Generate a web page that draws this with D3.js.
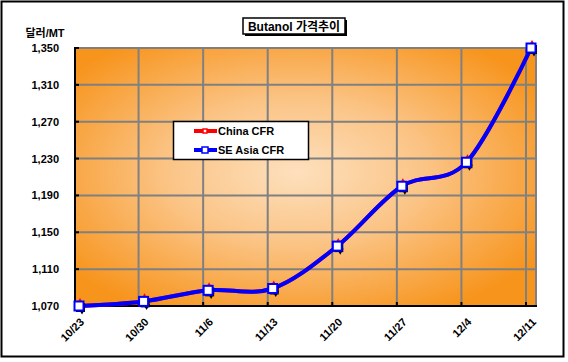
<!DOCTYPE html>
<html lang="ko">
<head>
<meta charset="UTF-8">
<title>Butanol 가격추이</title>
<script src="https://d3js.org/d3.v7.min.js"></script>
<style>
    * { margin: 0; padding: 0; }
    body { background: #fff; overflow: hidden; }
    svg text { font-family: 'Liberation Sans', Arial, 'Noto Sans CJK KR', sans-serif; font-weight: bold; fill: #000; }
</style>
</head>
<body>
<div id="chart"></div>
<script>
// chart data
const dates = ['10/23', '10/30', '11/6', '11/13', '11/20', '11/27', '12/4', '12/11'];
const chinaCfr = [1070, 1075, 1087, 1089, 1135, 1200, 1226, 1350];
const seAsiaCfr = [1070, 1075, 1087, 1089, 1135, 1200, 1226, 1350];
const yTicks = [1070, 1110, 1150, 1190, 1230, 1270, 1310, 1350];

const width = 568, height = 362;
const plot = { left: 75, top: 48, right: 536, bottom: 306 };

const svg = d3.select('#chart').append('svg')
    .attr('width', width)
    .attr('height', height);

// gradient fill for the plot area (light in the middle, orange at the edges)
const defs = svg.append('defs');
const grad = defs.append('radialGradient')
    .attr('id', 'bg')
    .attr('cx', '48%').attr('cy', '48%').attr('r', '62%');
grad.append('stop').attr('offset', '0%').attr('stop-color', '#fde0bd');
grad.append('stop').attr('offset', '45%').attr('stop-color', '#fbc486');
grad.append('stop').attr('offset', '100%').attr('stop-color', '#f7941c');

// outer frame
svg.append('rect')
    .attr('x', 1.5).attr('y', 1.5)
    .attr('width', 562).attr('height', 355)
    .attr('fill', '#fff')
    .attr('stroke', '#000')
    .attr('stroke-width', 2);

const x = d3.scalePoint().domain(dates).range([79, 531]);
const y = d3.scaleLinear().domain([1070, 1350]).range([plot.bottom, plot.top]);
const gridOffset = -5;

svg.append('rect')
    .attr('x', plot.left).attr('y', plot.top)
    .attr('width', plot.right - plot.left)
    .attr('height', plot.bottom - plot.top)
    .attr('fill', 'url(#bg)');

// gridlines
const grid = svg.append('g').attr('stroke', '#808080').attr('stroke-width', 2);
grid.selectAll('.hgrid')
    .data(yTicks)
    .join('line')
    .attr('x1', plot.left).attr('x2', plot.right)
    .attr('y1', d => y(d)).attr('y2', d => y(d));
grid.selectAll('.vgrid')
    .data(dates.slice(1))
    .join('line')
    .attr('x1', d => x(d) + gridOffset).attr('x2', d => x(d) + gridOffset)
    .attr('y1', plot.top).attr('y2', plot.bottom);
grid.append('line')
    .attr('x1', plot.right).attr('x2', plot.right)
    .attr('y1', plot.top).attr('y2', plot.bottom);

// axes lines
svg.append('line')
    .attr('x1', plot.left).attr('x2', plot.left)
    .attr('y1', plot.top - 1).attr('y2', plot.bottom + 1)
    .attr('stroke', '#000').attr('stroke-width', 2);
svg.append('line')
    .attr('x1', plot.left).attr('x2', plot.right + 1)
    .attr('y1', plot.bottom).attr('y2', plot.bottom)
    .attr('stroke', '#000').attr('stroke-width', 2);

// tick marks
svg.append('g').selectAll('line')
    .data(yTicks)
    .join('line')
    .attr('x1', plot.left).attr('x2', plot.left + 4)
    .attr('y1', d => y(d)).attr('y2', d => y(d))
    .attr('stroke', '#000').attr('stroke-width', 2);
svg.append('g').selectAll('line')
    .data(dates.slice(1))
    .join('line')
    .attr('x1', d => x(d) + gridOffset).attr('x2', d => x(d) + gridOffset)
    .attr('y1', plot.bottom).attr('y2', plot.bottom - 4)
    .attr('stroke', '#000').attr('stroke-width', 2);

// y tick labels
svg.append('g').selectAll('text')
    .data(yTicks)
    .join('text')
    .attr('x', 59)
    .attr('y', d => y(d) + 4)
    .attr('text-anchor', 'end')
    .attr('font-size', 11)
    .text(d => d3.format(',')(d));

svg.append('text')
    .attr('x', 45).attr('y', 37)
    .attr('text-anchor', 'middle')
    .attr('font-size', 11)
    .text('달러/MT');

// x tick labels
svg.append('g').selectAll('text')
    .data(dates)
    .join('text')
    .attr('transform', d => `translate(${x(d) + 3},${plot.bottom + 14}) rotate(-45)`)
    .attr('text-anchor', 'end')
    .attr('dy', '0.35em')
    .attr('font-size', 11)
    .text(d => d);

// lines
const line = d3.line()
    .x((d, i) => x(dates[i]))
    .y(d => y(d))
    .curve(d3.curveCardinal.tension(0));

svg.append('path')
    .datum(chinaCfr)
    .attr('d', line)
    .attr('fill', 'none')
    .attr('stroke', '#ff0000')
    .attr('stroke-width', 4);

const diamond = d3.symbol().type(d3.symbolDiamond).size(36);
const chinaPts = svg.append('g');
chinaPts.selectAll('.shadow')
    .data(chinaCfr)
    .join('path')
    .attr('transform', (d, i) => `translate(${x(dates[i]) + 3},${y(d) + 3})`)
    .attr('d', diamond)
    .attr('fill', '#000');
chinaPts.selectAll('.mark')
    .data(chinaCfr)
    .join('path')
    .attr('transform', (d, i) => `translate(${x(dates[i]) + 1},${y(d) - 1})`)
    .attr('d', diamond)
    .attr('fill', '#fff')
    .attr('stroke', '#ff0000')
    .attr('stroke-width', 1.5);

svg.append('path')
    .datum(seAsiaCfr)
    .attr('d', line)
    .attr('fill', 'none')
    .attr('stroke', '#0000ff')
    .attr('stroke-width', 4);

const seaPts = svg.append('g');
seaPts.selectAll('.shadow')
    .data(seAsiaCfr)
    .join('rect')
    .attr('x', (d, i) => x(dates[i]) - 3)
    .attr('y', d => y(d) - 3)
    .attr('width', 9).attr('height', 9)
    .attr('fill', '#000');
seaPts.selectAll('.mark')
    .data(seAsiaCfr)
    .join('rect')
    .attr('x', (d, i) => x(dates[i]) - 4.5)
    .attr('y', d => y(d) - 4.5)
    .attr('width', 9).attr('height', 9)
    .attr('fill', '#fff')
    .attr('stroke', '#0000ff')
    .attr('stroke-width', 2);

// title box
svg.append('rect')
    .attr('x', 245).attr('y', 20)
    .attr('width', 102).attr('height', 16)
    .attr('fill', '#000');
svg.append('rect')
    .attr('x', 243).attr('y', 18)
    .attr('width', 102).attr('height', 16)
    .attr('fill', '#fff')
    .attr('stroke', '#000')
    .attr('stroke-width', 1.5);
svg.append('text')
    .attr('x', 294).attr('y', 30.5)
    .attr('text-anchor', 'middle')
    .attr('font-size', 12)
    .text('Butanol 가격추이');

// legend
const legend = svg.append('g');
legend.append('rect')
    .attr('x', 173.5).attr('y', 121.5)
    .attr('width', 135).attr('height', 38)
    .attr('fill', '#fff')
    .attr('stroke', '#000')
    .attr('stroke-width', 1.5);
const series = [
    { name: 'China CFR', color: '#ff0000' },
    { name: 'SE Asia CFR', color: '#0000ff' }
];
const rows = legend.selectAll('g')
    .data(series)
    .join('g')
    .attr('transform', (d, i) => `translate(0,${131 + i * 19})`);
rows.append('line')
    .attr('x1', 194).attr('x2', 217)
    .attr('stroke', d => d.color)
    .attr('stroke-width', 4);
rows.append('rect')
    .attr('x', (d, i) => i === 0 ? 203 : 202)
    .attr('y', (d, i) => i === 0 ? -2 : -3)
    .attr('width', (d, i) => i === 0 ? 4 : 6)
    .attr('height', (d, i) => i === 0 ? 4 : 6)
    .attr('fill', '#fff')
    .attr('stroke', d => d.color)
    .attr('stroke-width', 1.5);
rows.append('text')
    .attr('x', 218).attr('y', 4)
    .attr('font-size', 11)
    .text(d => d.name);
</script>
</body>
</html>
